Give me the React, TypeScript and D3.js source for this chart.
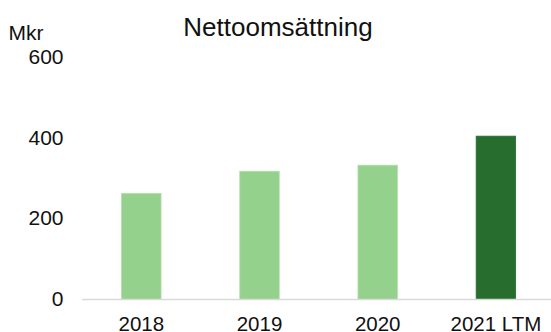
import React from "react";
import * as d3 from "d3";

const categories: string[] = ["2018", "2019", "2020", "2021 LTM"];
const values: number[] = [263, 318, 333, 405];
const highlight: boolean[] = [false, false, false, true];
const yTicks: number[] = [0, 200, 400, 600];
const title = "Nettoomsättning";
const unitLabel = "Mkr";

const W = 551;
const H = 332;
const FONT = "'Liberation Sans', Arial, Helvetica, sans-serif";

export default function App() {
  const x = d3
    .scaleBand<string>()
    .domain(categories)
    .range([82.2, 555])
    .paddingInner(0.666)
    .paddingOuter(0.333);
  const y = d3.scaleLinear().domain([0, 600]).range([299.5, 57.5]);

  return (
    <svg
      width={W}
      height={H}
      style={{ position: "absolute", left: 0, top: 0, background: "#fff" }}
      fontFamily={FONT}
    >
      <text x={278} y={36} textAnchor="middle" fontSize={26} fill="#111">
        {title}
      </text>
      <text x={8.5} y={40} fontSize={21} fill="#111">
        {unitLabel}
      </text>
      {yTicks.map((t) => (
        <text
          key={t}
          x={63.5}
          y={y(t) - 1}
          textAnchor="end"
          dominantBaseline="central"
          fontSize={21}
          fill="#111"
        >
          {t}
        </text>
      ))}
      {categories.map((c, i) => (
        <rect
          key={c}
          x={x(c)}
          y={y(values[i])}
          width={x.bandwidth()}
          height={y(0) - y(values[i])}
          fill={highlight[i] ? "#276E2E" : "#94D18C"}
          stroke={highlight[i] ? "#276E2E" : "#B3E0AC"}
          strokeWidth={0.8}
        />
      ))}
      <line x1={82.2} x2={W} y1={y(0)} y2={y(0)} stroke="#D9D9D9" strokeWidth={1.5} />
      {categories.map((c) => (
        <text
          key={c}
          x={(x(c) as number) + x.bandwidth() / 2}
          y={331}
          textAnchor="middle"
          fontSize={20.5}
          fill="#111"
        >
          {c}
        </text>
      ))}
    </svg>
  );
}
